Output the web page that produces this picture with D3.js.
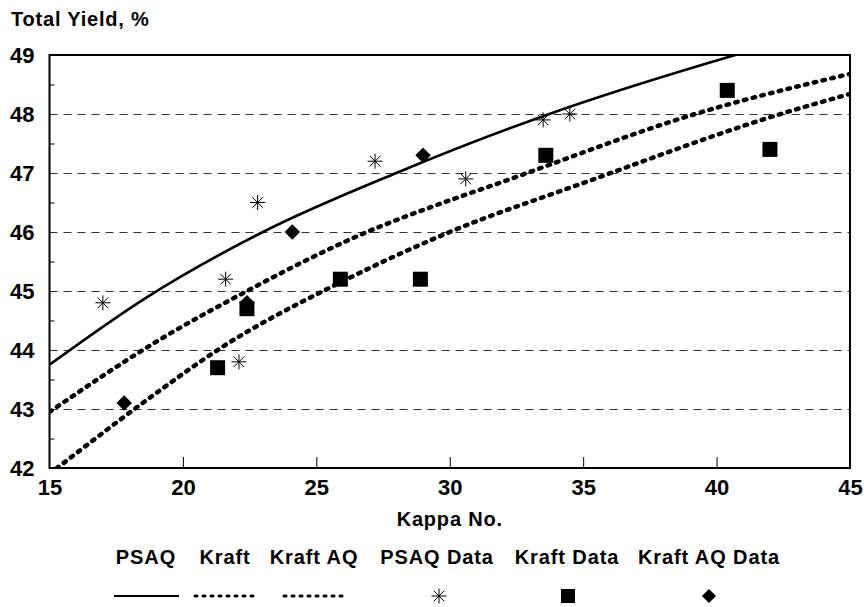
<!DOCTYPE html>
<html>
<head>
<meta charset="utf-8">
<script src="https://cdn.jsdelivr.net/npm/d3@7"></script>
<style>
  body { margin: 0; background: #fff; }
  text { font-family: Arial, "Liberation Sans", sans-serif; font-weight: bold; fill: #000; }
</style>
</head>
<body>
<div id="chart"></div>
<script>
// fitted curves (kappa, yield)
var psaqCurve = [[15, 43.75], [18.6, 44.88], [23.0, 46.0], [28.0, 47.0], [33.6, 47.98], [40.7, 49.0], [42, 49.17]];
var kraftCurve = [[15, 42.95], [19.0, 44.14], [22.4, 45.0], [26.0, 45.82], [32.9, 47.0], [39.2, 48.0], [45, 48.68]];
var kraftAqCurve = [[15, 41.9], [15.4, 42.04], [19.0, 43.27], [21.3, 44.0], [26.1, 45.19], [30.0, 46.0], [35.0, 46.83], [42.4, 48.0], [45, 48.34]];

// measured points
var psaqData = [[17.0, 44.8], [21.6, 45.2], [22.1, 43.8], [22.8, 46.5], [27.2, 47.2], [30.6, 46.9], [33.5, 47.9], [34.5, 48.0]];
var kraftData = [[21.3, 43.7], [22.4, 44.7], [25.9, 45.2], [28.9, 45.2], [33.6, 47.3], [40.4, 48.4], [42.0, 47.4]];
var kraftAqData = [[17.8, 43.1], [22.4, 44.8], [24.1, 46.0], [29.0, 47.3]];

var xTicks = [15, 20, 25, 30, 35, 40, 45];
var yTicks = [42, 43, 44, 45, 46, 47, 48, 49];
var yMinor = [42.5, 43.5, 44.5, 45.5, 46.5, 47.5, 48.5];
var legendNames = ["PSAQ", "Kraft", "Kraft AQ", "PSAQ Data", "Kraft Data", "Kraft AQ Data"];

var width = 864, height = 607;
var svg = d3.select("#chart").append("svg")
  .attr("width", width)
  .attr("height", height);

var x = d3.scaleLinear().domain([15, 45]).range([49.5, 850]);
var y = d3.scaleLinear().domain([42, 49]).range([468, 55]);

// gridlines
svg.append("g")
  .attr("transform", "translate(" + x(15) + ",0)")
  .call(d3.axisLeft(y).tickValues(yTicks.slice(1, -1)).tickSize(-(x(45) - x(15))).tickFormat(""))
  .call(function(g) {
    g.select(".domain").remove();
    g.selectAll("line").attr("stroke", "#333").attr("stroke-dasharray", "8,6");
  });

// y labels
svg.append("g")
  .attr("transform", "translate(" + x(15) + ",0)")
  .call(d3.axisLeft(y).tickValues(yTicks).tickSize(0).tickPadding(15).tickFormat(d3.format("d")))
  .call(function(g) {
    g.select(".domain").remove();
    g.selectAll("text").style("font-size", "22px").attr("dy", "0.36em");
  });

// y minor ticks (inside)
svg.append("g")
  .attr("transform", "translate(" + x(15) + ",0)")
  .call(d3.axisRight(y).tickValues(yMinor).tickSize(5).tickFormat(""))
  .call(function(g) {
    g.select(".domain").remove();
    g.selectAll("line").attr("stroke", "#000");
  });

// x axis
svg.append("g")
  .attr("transform", "translate(0," + y(42) + ")")
  .call(d3.axisBottom(x).tickValues(xTicks).tickSize(0).tickPadding(11).tickFormat(d3.format("d")))
  .call(function(g) {
    g.select(".domain").remove();
    g.selectAll("text").style("font-size", "22px").attr("dy", "0.71em");
  });
svg.append("g")
  .attr("transform", "translate(0," + y(42) + ")")
  .call(d3.axisTop(x).tickValues(xTicks.slice(1, -1)).tickSize(11).tickFormat(""))
  .call(function(g) {
    g.select(".domain").remove();
    g.selectAll("line").attr("stroke", "#000");
  });

svg.append("text")
  .attr("x", 11).attr("y", 26)
  .style("font-size", "20px")
  .style("letter-spacing", "0.8px")
  .text("Total Yield, %");

svg.append("text")
  .attr("x", (x(15) + x(45)) / 2).attr("y", 526)
  .attr("text-anchor", "middle")
  .style("font-size", "20px")
  .style("letter-spacing", "0.8px")
  .text("Kappa No.");

// curves
svg.append("clipPath").attr("id", "clip")
  .append("rect")
  .attr("x", x(15)).attr("y", y(49))
  .attr("width", x(45) - x(15)).attr("height", y(42) - y(49));

var line = d3.line()
  .x(function(d) { return x(d[0]); })
  .y(function(d) { return y(d[1]); })
  .curve(d3.curveMonotoneX);

var curves = svg.append("g").attr("clip-path", "url(#clip)");
curves.append("path")
  .attr("d", line(psaqCurve))
  .attr("fill", "none").attr("stroke", "#000").attr("stroke-width", 2.6);
[kraftCurve, kraftAqCurve].forEach(function(c) {
  curves.append("path")
    .attr("d", line(c))
    .attr("fill", "none").attr("stroke", "#000")
    .attr("stroke-width", 4.5)
    .attr("stroke-linecap", "round")
    .attr("stroke-dasharray", "2.5,6.5");
});

// markers
function asterisk(cx, cy, r) {
  var p = d3.path();
  for (var i = 0; i < 4; i++) {
    var a = i * Math.PI / 4;
    p.moveTo(cx - r * Math.cos(a), cy - r * Math.sin(a));
    p.lineTo(cx + r * Math.cos(a), cy + r * Math.sin(a));
  }
  return p.toString();
}
var sq = d3.symbol().type(d3.symbolSquare).size(225);
var dia = d3.symbol().type(d3.symbolSquare).size(120);

svg.append("g").selectAll("path").data(kraftData).enter().append("path")
  .attr("d", sq)
  .attr("transform", function(d) { return "translate(" + x(d[0]) + "," + y(d[1]) + ")"; })
  .attr("fill", "#000");
svg.append("g").selectAll("path").data(kraftAqData).enter().append("path")
  .attr("d", dia)
  .attr("transform", function(d) { return "translate(" + x(d[0]) + "," + y(d[1]) + ") rotate(45)"; })
  .attr("fill", "#000");
svg.append("g").selectAll("path").data(psaqData).enter().append("path")
  .attr("d", function(d) { return asterisk(x(d[0]), y(d[1]), 7.5); })
  .attr("stroke", "#000").attr("stroke-width", 1).attr("fill", "none");

// frame
svg.append("rect")
  .attr("x", x(15)).attr("y", y(49))
  .attr("width", x(45) - x(15)).attr("height", y(42) - y(49))
  .attr("fill", "none").attr("stroke", "#000").attr("stroke-width", 2);

// legend
var legendX = [146, 225, 314, 437, 567, 709];
var legend = svg.append("g");
legend.selectAll("text").data(legendNames).enter().append("text")
  .attr("x", function(d, i) { return legendX[i]; })
  .attr("y", 564)
  .attr("text-anchor", "middle")
  .style("font-size", "20px")
  .style("letter-spacing", "0.9px")
  .text(function(d) { return d; });

var ly = 596;
legend.append("line")
  .attr("x1", legendX[0] - 32).attr("x2", legendX[0] + 33)
  .attr("y1", ly).attr("y2", ly)
  .attr("stroke", "#000").attr("stroke-width", 2.2);
[1, 2].forEach(function(i) {
  legend.append("line")
    .attr("x1", legendX[i] - 30).attr("x2", legendX[i] + 33)
    .attr("y1", ly).attr("y2", ly)
    .attr("stroke", "#000").attr("stroke-width", 3)
    .attr("stroke-linecap", "round")
    .attr("stroke-dasharray", "2,6");
});
legend.append("path")
  .attr("d", asterisk(legendX[3] + 2, ly, 7.5))
  .attr("stroke", "#000").attr("stroke-width", 1).attr("fill", "none");
legend.append("path")
  .attr("d", d3.symbol().type(d3.symbolSquare).size(196))
  .attr("transform", "translate(" + (legendX[4] + 1) + "," + ly + ")");
legend.append("path")
  .attr("d", d3.symbol().type(d3.symbolSquare).size(100))
  .attr("transform", "translate(" + legendX[5] + "," + ly + ") rotate(45)");
</script>
</body>
</html>
